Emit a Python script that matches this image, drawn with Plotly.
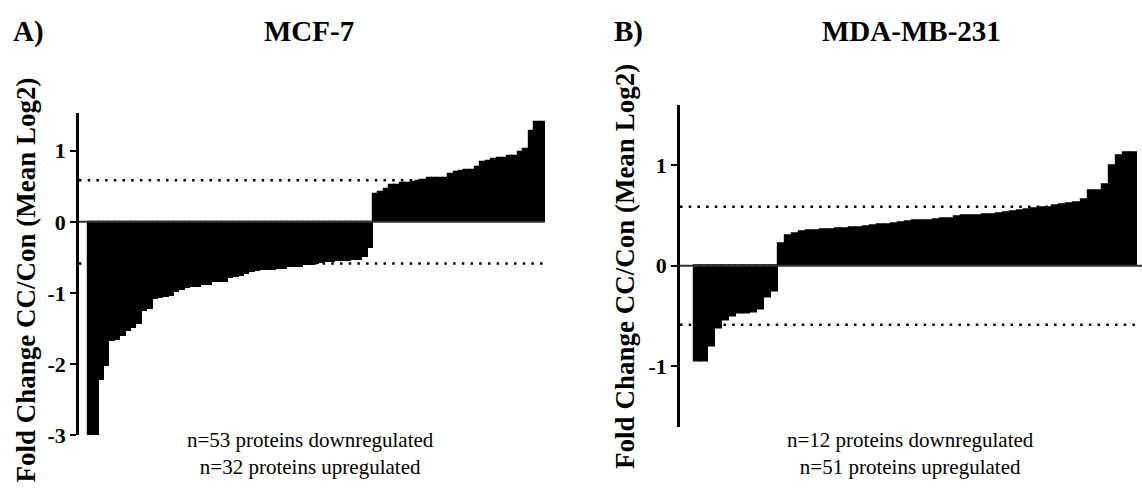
import plotly.graph_objects as go

# ---------------- data ----------------
mcf7_down = [-3.0, -3.0, -2.22, -2.02, -1.67, -1.66, -1.61, -1.53, -1.49, -1.44,
             -1.25, -1.23, -1.09, -1.07, -1.05, -1.04, -0.99, -0.95, -0.93, -0.92,
             -0.92, -0.89, -0.88, -0.85, -0.85, -0.84, -0.79, -0.78, -0.76, -0.73,
             -0.70, -0.69, -0.67, -0.67, -0.67, -0.66, -0.66, -0.64, -0.64, -0.63,
             -0.61, -0.60, -0.59, -0.58, -0.57, -0.56, -0.55, -0.55, -0.55, -0.54,
             -0.53, -0.49, -0.36]
mcf7_up = [0.39, 0.415, 0.46, 0.516, 0.52, 0.54, 0.54, 0.56, 0.575, 0.585,
           0.61, 0.61, 0.61, 0.62, 0.667, 0.70, 0.71, 0.73, 0.735, 0.767,
           0.84, 0.85, 0.88, 0.90, 0.90, 0.925, 0.93, 0.98, 1.03, 1.28,
           1.41, 1.41]
mda_down = [-0.95, -0.95, -0.80, -0.62, -0.54, -0.50, -0.47, -0.47, -0.46, -0.43,
            -0.32, -0.26]
mda_up = [0.22, 0.30, 0.32, 0.335, 0.345, 0.35, 0.36, 0.363, 0.366, 0.37,
          0.375, 0.38, 0.385, 0.395, 0.405, 0.41, 0.415, 0.425, 0.437, 0.445,
          0.447, 0.452, 0.462, 0.47, 0.472, 0.489, 0.495, 0.50, 0.501, 0.508,
          0.511, 0.515, 0.524, 0.54, 0.55, 0.56, 0.569, 0.575, 0.582, 0.595,
          0.608, 0.62, 0.627, 0.656, 0.742, 0.742, 0.81, 0.99, 1.09, 1.12,
          1.12]
threshold = 0.585  # log2(1.5)
panel_titles = ["MCF-7", "MDA-MB-231"]
panel_letters = ["A)", "B)"]
y_title = "Fold Change CC/Con (Mean Log2)"
left_ticks = [-3, -2, -1, 0, 1]
right_ticks = [-1, 0, 1]
notes_left = ["n=53 proteins downregulated", "n=32 proteins upregulated"]
notes_right = ["n=12 proteins downregulated", "n=51 proteins upregulated"]

FONT = "Liberation Serif"
W, H = 1142, 500

left_vals = mcf7_down + mcf7_up
right_vals = mda_down + mda_up

bar_style = dict(color="black", line=dict(color="black", width=1.2))
fig = go.Figure()
fig.add_trace(go.Bar(x=list(range(len(left_vals))), y=left_vals, xaxis="x", yaxis="y",
                     width=1.0, marker=bar_style, showlegend=False, hoverinfo="skip"))
fig.add_trace(go.Bar(x=list(range(len(right_vals))), y=right_vals, xaxis="x2", yaxis="y2",
                     width=1.0, marker=bar_style, showlegend=False, hoverinfo="skip"))

lx0, lx1 = -2.17, 84.5
rx0, rx1 = -2.49, 63.25

def px(v):
    return v / W

def py(v):
    return 1 - v / H

def tick_labels(vals):
    return ["<b>%d</b>" % v for v in vals]

axis_common = dict(showgrid=False, zeroline=False, showline=True, linecolor="black",
                   linewidth=2.5, ticks="outside", ticklen=6, tickwidth=2,
                   tickcolor="black",
                   tickfont=dict(family=FONT, size=22, color="black", weight="bold"))

fig.update_layout(
    width=W, height=H, margin=dict(l=0, r=0, t=0, b=0),
    paper_bgcolor="white", plot_bgcolor="rgba(0,0,0,0)",
    bargap=0, barmode="overlay",
    xaxis=dict(domain=[px(79), px(545)], range=[lx0, lx1], visible=False),
    yaxis=dict(domain=[py(447), py(116)], range=[-3.0, 1.53], tickvals=left_ticks,
               ticktext=tick_labels(left_ticks), anchor="x", **axis_common),
    xaxis2=dict(domain=[px(680), 1.0], range=[rx0, rx1], visible=False),
    yaxis2=dict(domain=[py(438.3), py(107.3)], range=[-1.6, 1.6], tickvals=right_ticks,
                ticktext=tick_labels(right_ticks), anchor="x2", **axis_common),
)

shapes = []
for xr, yr, xa, xb in (("x", "y", lx0, len(left_vals) - 0.5),
                       ("x2", "y2", rx0, len(right_vals) - 0.5)):
    for t in (threshold, -threshold):
        shapes.append(dict(type="line", xref=xr, yref=yr, x0=xa, x1=xb, y0=t, y1=t,
                           line=dict(color="black", width=2.5, dash="2.5px,6.2px"),
                           layer="below"))
shapes.append(dict(type="line", xref="x", yref="y", x0=lx0, x1=lx1, y0=0, y1=0,
                   line=dict(color="#333333", width=2), layer="above"))
shapes.append(dict(type="line", xref="x2", yref="y2", x0=rx0, x1=rx1, y0=0, y1=0,
                   line=dict(color="#333333", width=2), layer="above"))
fig.update_layout(shapes=shapes)

ann = []
def text(x, y, s, size, angle=0):
    ann.append(dict(xref="paper", yref="paper", x=px(x), y=py(y), text=s,
                    showarrow=False, xanchor="center", yanchor="middle",
                    textangle=angle,
                    font=dict(family=FONT, size=size, color="black")))

text(28, 32, "<b>%s</b>" % panel_letters[0], 29)
text(309, 32, "<b>%s</b>" % panel_titles[0], 29)
text(628, 32, "<b>%s</b>" % panel_letters[1], 29)
text(911, 32, "<b>%s</b>" % panel_titles[1], 29)
text(26, 288, "<b>%s</b>" % y_title, 27, angle=-90)
text(625, 274, "<b>%s</b>" % y_title, 27, angle=-90)
text(310, 466, "<br>".join(notes_left), 21)
text(910, 466, "<br>".join(notes_right), 21)
fig.update_layout(annotations=ann)

fig.write_html("out.html", config={"displayModeBar": False},
               post_script="document.body.style.margin='0';")
